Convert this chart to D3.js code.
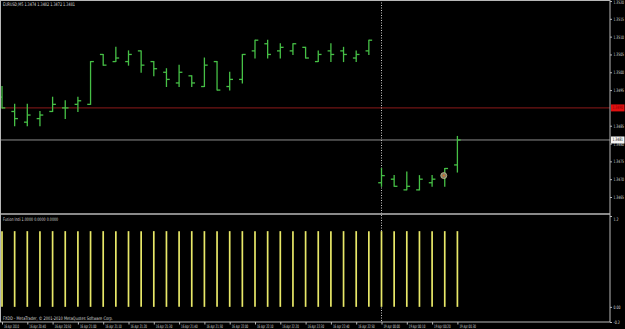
<!DOCTYPE html>
<html>
<head>
<meta charset="utf-8">
<script src="https://cdn.jsdelivr.net/npm/d3@7"></script>
<style>
  html, body { margin: 0; padding: 0; background: #000; }
  svg { display: block; }
</style>
</head>
<body>
<div id="chart"></div>
<script>
// bar times (M5)
var times = [
  "16 Apr 20:30", "16 Apr 20:35", "16 Apr 20:40", "16 Apr 20:45", "16 Apr 20:50", "16 Apr 20:55",
  "16 Apr 21:00", "16 Apr 21:05", "16 Apr 21:10", "16 Apr 21:15", "16 Apr 21:20", "16 Apr 21:25",
  "16 Apr 21:30", "16 Apr 21:35", "16 Apr 21:40", "16 Apr 21:45", "16 Apr 21:50", "16 Apr 21:55",
  "16 Apr 22:00", "16 Apr 22:05", "16 Apr 22:10", "16 Apr 22:15", "16 Apr 22:20", "16 Apr 22:25",
  "16 Apr 22:30", "16 Apr 22:35", "16 Apr 22:40", "16 Apr 22:45", "16 Apr 22:50", "16 Apr 22:55",
  "19 Apr 00:00", "19 Apr 00:05", "19 Apr 00:10", "19 Apr 00:15", "19 Apr 00:20", "19 Apr 00:25",
  "19 Apr 00:30"
];
var opens  = [1.3493, 1.3489, 1.3486, 1.3487, 1.3489, 1.3490, 1.3491, 1.3491, 1.3505, 1.3503,
              1.3503, 1.3506, 1.3503, 1.3500, 1.3497, 1.3499, 1.3496, 1.3503, 1.3496, 1.3498,
              1.3506, 1.3508, 1.3506, 1.3506, 1.3507, 1.3503, 1.3506, 1.3506, 1.3504, 1.3506,
              1.3469, 1.3470, 1.3467, 1.3467, 1.3469, 1.3471, 1.3474];
var highs  = [1.3496, 1.3491, 1.3491, 1.3489, 1.3493, 1.3492, 1.3493, 1.3503, 1.3505, 1.3507,
              1.3506, 1.3506, 1.3503, 1.3501, 1.3502, 1.3499, 1.3504, 1.3503, 1.3500, 1.3505,
              1.3509, 1.3509, 1.3508, 1.3508, 1.3507, 1.3506, 1.3508, 1.3507, 1.3506, 1.3509,
              1.3473, 1.3471, 1.3472, 1.3471, 1.3471, 1.3473, 1.3482];
var lows   = [1.3490, 1.3485, 1.3485, 1.3485, 1.3489, 1.3487, 1.3489, 1.3491, 1.3502, 1.3503,
              1.3502, 1.3500, 1.3499, 1.3496, 1.3496, 1.3496, 1.3496, 1.3495, 1.3495, 1.3497,
              1.3504, 1.3504, 1.3504, 1.3505, 1.3504, 1.3503, 1.3503, 1.3503, 1.3503, 1.3505,
              1.3468, 1.3468, 1.3467, 1.3467, 1.3468, 1.3468, 1.3472];
var closes = [1.3490, 1.3487, 1.3488, 1.3488, 1.3491, 1.3490, 1.3492, 1.3503, 1.3502, 1.3504,
              1.3505, 1.3502, 1.3501, 1.3498, 1.3500, 1.3497, 1.3502, 1.3495, 1.3498, 1.3505,
              1.3509, 1.3505, 1.3507, 1.3508, 1.3504, 1.3505, 1.3505, 1.3505, 1.3505, 1.3509,
              1.3471, 1.3468, 1.3468, 1.3470, 1.3470, 1.3473, 1.3481];
// Fusion Indi histogram
var fusion = [1, 1, 1, 1, 1, 1, 1, 1, 1, 1, 1, 1, 1, 1, 1, 1, 1, 1, 1, 1,
              1, 1, 1, 1, 1, 1, 1, 1, 1, 1, 1, 1, 1, 1, 1, 1, 1];

var priceTicks = [1.3520, 1.3515, 1.3510, 1.3505, 1.3500, 1.3495, 1.3485, 1.3480, 1.3475, 1.3470, 1.3465];
var indiTicks = [1.2, 0, -0.2];
var indiTickLabels = ["1.2", "0.00", "-0.2"];
var timeTicks = ["16 Apr 20:30", "16 Apr 20:40", "16 Apr 20:50", "16 Apr 21:00", "16 Apr 21:10",
                 "16 Apr 21:20", "16 Apr 21:30", "16 Apr 21:40", "16 Apr 21:50", "16 Apr 22:00",
                 "16 Apr 22:10", "16 Apr 22:20", "16 Apr 22:30", "16 Apr 22:40", "16 Apr 22:50",
                 "19 Apr 00:00", "19 Apr 00:10", "19 Apr 00:20", "19 Apr 00:30"];
var hLinePrice = 1.3490;   // red horizontal line
var bidPrice = 1.3481;
var sepTime = "19 Apr 00:00";
var markerTime = "19 Apr 00:25", markerPrice = 1.3471;

var title = "EURUSD,M5  1.3474 1.3482 1.3472 1.3481";
var indiTitle = "Fusion Indi 1.0000 0.0000 0.0000";
var footer = "FXDD - MetaTrader, \u00a9 2001-2010 MetaQuotes Software Corp.";

var W = 625, H = 329;
var axisX = 610, sepY = 214, bottomY = 322;
var font = "Tahoma, 'DejaVu Sans', sans-serif";
var txtColor = "#d8d8d8", frameColor = "#b8b8b8";
var barColor = "#46c046", histColor = "#e8e868";

var svg = d3.select("#chart").append("svg")
    .attr("width", W).attr("height", H);
svg.append("rect").attr("width", W).attr("height", H).attr("fill", "#000");

var x = d3.scalePoint().domain(times).range([2, 457.4]);
var y = d3.scaleLinear().domain([1.3465, 1.3520]).range([197, 1]);
var yi = d3.scaleLinear().domain([-0.2, 1.2]).range([bottomY, 216]);

// squeeze a text horizontally to a given width (keeps it real text)
function squeeze(sel, width){
    sel.each(function(){
        var t = d3.select(this);
        var w = typeof width === "function" ? width.apply(this, arguments) : width;
        var nat = this.getComputedTextLength();
        var x0 = +t.attr("x") || 0;
        t.attr("x", 0)
         .attr("transform", "translate(" + x0 + ",0) scale(" + (w / nat) + ",1)");
    });
}

// horizontal lines
svg.append("line")
    .attr("x1", 0).attr("x2", axisX)
    .attr("y1", y(hLinePrice)).attr("y2", y(hLinePrice))
    .attr("stroke", "#701414").attr("stroke-width", 1.3);
svg.append("line")
    .attr("x1", 0).attr("x2", axisX)
    .attr("y1", y(bidPrice)).attr("y2", y(bidPrice))
    .attr("stroke", "#8c8c8c").attr("stroke-width", 1);

// period separator
svg.append("line")
    .attr("x1", x(sepTime)).attr("x2", x(sepTime))
    .attr("y1", 0).attr("y2", bottomY)
    .attr("stroke", "#c8c8c8").attr("stroke-width", 1)
    .attr("stroke-dasharray", "1,1.5");

// OHLC bars
var bars = svg.append("g").attr("stroke", barColor).attr("stroke-width", 1.3);
times.forEach(function(t, i){
    var cx = x(t);
    bars.append("line").attr("x1", cx).attr("x2", cx)
        .attr("y1", y(highs[i]) - 0.5).attr("y2", y(lows[i]) + 0.5);
    bars.append("line").attr("x1", cx - 3.3).attr("x2", cx)
        .attr("y1", y(opens[i])).attr("y2", y(opens[i]));
    bars.append("line").attr("x1", cx).attr("x2", cx + 3.3)
        .attr("y1", y(closes[i])).attr("y2", y(closes[i]));
});

// trade marker
var mk = svg.append("g")
    .attr("transform", "translate(" + (x(markerTime) - 1) + "," + y(markerPrice) + ")");
mk.append("circle").attr("r", 3).attr("fill", "#807c66").attr("stroke", "#c4be90").attr("stroke-width", 0.8);
mk.append("circle").attr("r", 1.1).attr("fill", "#d87020");

// indicator histogram
svg.append("g").selectAll("line")
    .data(fusion)
  .enter().append("line")
    .attr("x1", function(d, i){ return x(times[i]); })
    .attr("x2", function(d, i){ return x(times[i]); })
    .attr("y1", yi(0))
    .attr("y2", function(d){ return yi(d); })
    .attr("stroke", histColor).attr("stroke-width", 1.7);

// frame
var frame = svg.append("g").attr("stroke", frameColor).attr("fill", "none");
frame.append("line").attr("x1", 0).attr("x2", axisX).attr("y1", 0.5).attr("y2", 0.5);
frame.append("line").attr("x1", 0.5).attr("x2", 0.5).attr("y1", 0).attr("y2", bottomY);
frame.append("line").attr("x1", axisX).attr("x2", axisX).attr("y1", 0).attr("y2", bottomY);
frame.append("line").attr("x1", 0).attr("x2", axisX).attr("y1", sepY).attr("y2", sepY).attr("stroke-width", 1.6);
frame.append("line").attr("x1", 0).attr("x2", axisX).attr("y1", bottomY).attr("y2", bottomY);

function styleAxis(g){
    g.attr("font-family", font).attr("font-size", 4.6);
    g.select(".domain").remove();
    g.selectAll(".tick line").attr("stroke", frameColor);
    g.selectAll(".tick text").attr("fill", txtColor);
}

// price axis
var pAxis = svg.append("g")
    .attr("transform", "translate(" + axisX + ",0)")
    .call(d3.axisRight(y).tickValues(priceTicks).tickSize(2).tickPadding(1.5).tickFormat(d3.format(".4f")));
styleAxis(pAxis);
pAxis.select(".tick text").attr("dy", "0.6em");
squeeze(pAxis.selectAll(".tick text"), 10.5);

// axis price labels for lines
function priceBox(p, bg, fg){
    var g = svg.append("g").attr("transform", "translate(" + (axisX + 1) + "," + y(p) + ")");
    g.append("rect").attr("x", 0).attr("y", -3.5).attr("width", 13.5).attr("height", 7).attr("fill", bg);
    var t = g.append("text").attr("x", 1.5).attr("dy", "0.32em")
        .attr("font-family", font).attr("font-size", 4.6).attr("fill", fg)
        .text(d3.format(".4f")(p));
    squeeze(t, 10.5);
}
priceBox(hLinePrice, "#e01010", "#8a0000");
priceBox(bidPrice, "#f4f4f4", "#000");

// indicator axis
var iAxis = svg.append("g")
    .attr("transform", "translate(" + axisX + ",0)")
    .call(d3.axisRight(yi).tickValues(indiTicks).tickSize(2).tickPadding(1.5)
        .tickFormat(function(d, i){ return indiTickLabels[i]; }));
styleAxis(iAxis);
iAxis.selectAll(".tick").filter(function(d){ return d === 1.2; })
    .select("text").attr("dy", "0.9em");
squeeze(iAxis.selectAll(".tick text"), function(d, i){ return [5, 7, 6.5][i]; });

// time axis
var tAxis = svg.append("g")
    .attr("transform", "translate(0," + bottomY + ")")
    .call(d3.axisBottom(x).tickValues(timeTicks).tickSize(2.5).tickPadding(1)
        .tickFormat(function(d, i){ return i === 0 ? "16 Apr 2010" : d; }));
styleAxis(tAxis);
tAxis.selectAll(".tick text")
    .attr("text-anchor", "start").attr("x", 1.5).attr("dy", "0.55em");
squeeze(tAxis.selectAll(".tick text"), function(d, i){ return i === 0 ? 15 : 16.5; });

// labels
function label(txt, lx, ly, len){
    var t = svg.append("text").attr("x", lx).attr("y", ly)
        .attr("font-family", font).attr("font-size", 4.8).attr("fill", txtColor)
        .text(txt);
    squeeze(t, len);
    t.attr("transform", "translate(" + lx + "," + ly + ") scale(" + (len / t.node().getComputedTextLength()) + ",1)")
     .attr("y", 0);
}
label(title, 3, 6.2, 72);
label(indiTitle, 3, 220.6, 55);
label(footer, 3, 319.6, 110);
</script>
</body>
</html>
